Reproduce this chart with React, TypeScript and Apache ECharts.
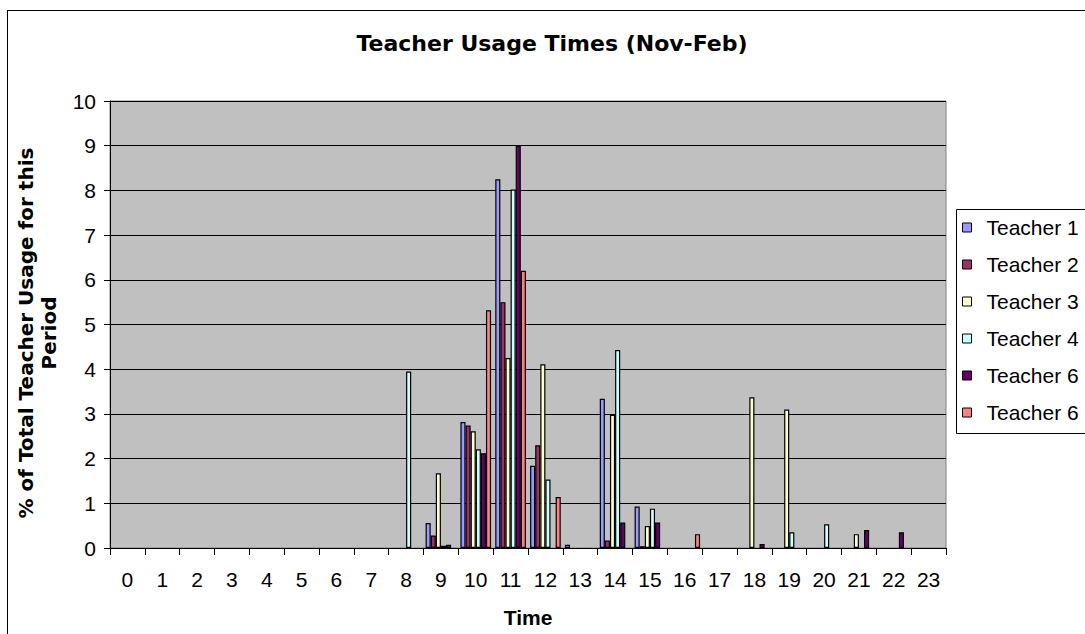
import React, { useEffect, useRef } from "react";
import * as echarts from "echarts";

const hours = ["0", "1", "2", "3", "4", "5", "6", "7", "8", "9", "10", "11", "12", "13", "14", "15", "16", "17", "18", "19", "20", "21", "22", "23"];
const yTicks = { min: 0, max: 10, interval: 1 };

const teacher1 = [0, 0, 0, 0, 0, 0, 0, 0, 0, 0.56, 2.82, 8.25, 1.84, 0.07, 3.34, 0.93, 0, 0, 0, 0, 0, 0, 0, 0];
const teacher2 = [0, 0, 0, 0, 0, 0, 0, 0, 0, 0.28, 2.74, 5.5, 2.3, 0, 0.17, 0.04, 0, 0, 0, 0, 0, 0, 0, 0];
const teacher3 = [0, 0, 0, 0, 0, 0, 0, 0, 0, 1.67, 2.61, 4.25, 4.11, 0, 2.98, 0.49, 0, 0, 3.37, 3.1, 0, 0.31, 0, 0];
const teacher4 = [0, 0, 0, 0, 0, 0, 0, 0, 3.95, 0.05, 2.21, 8.02, 1.53, 0, 4.43, 0.88, 0, 0, 0, 0.35, 0.53, 0, 0, 0];
const teacher6a = [0, 0, 0, 0, 0, 0, 0, 0, 0, 0.07, 2.12, 9.0, 0, 0, 0.57, 0.57, 0, 0, 0.09, 0, 0, 0.4, 0.35, 0];
const teacher6b = [0, 0, 0, 0, 0, 0, 0, 0, 0, 0, 5.32, 6.2, 1.14, 0, 0, 0, 0.31, 0, 0, 0, 0, 0, 0, 0];

const seriesNames = ["Teacher 1", "Teacher 2", "Teacher 3", "Teacher 4", "Teacher 6", "Teacher 6 "];
const seriesData = [teacher1, teacher2, teacher3, teacher4, teacher6a, teacher6b];
const seriesColors = ["#9999FF", "#993366", "#FFFFCC", "#CCFFFF", "#660066", "#FF8080"];

const ARIAL = "'Liberation Sans', Arial, sans-serif";
const WIDE = "'DejaVu Sans', sans-serif";

export default function App() {
  const ref = useRef<HTMLDivElement>(null);

  useEffect(() => {
    document.body.style.margin = "0";
    document.body.style.overflow = "hidden";
    if (!ref.current) return;
    const chart = echarts.init(ref.current, null, { renderer: "svg" });
    chart.setOption({
      animation: false,
      backgroundColor: "#FFFFFF",
      grid: {
        left: 110,
        right: 1085 - 946,
        top: 101,
        bottom: 634 - 548,
        show: true,
        backgroundColor: "#C0C0C0",
        borderColor: "#808080",
        borderWidth: 1,
      },
      xAxis: {
        type: "category",
        data: hours,
        boundaryGap: true,
        axisLine: { lineStyle: { color: "#000", width: 1 } },
        axisTick: { show: true, inside: false, length: 7, lineStyle: { color: "#000" } },
        axisLabel: { color: "#000", fontFamily: ARIAL, fontSize: 21, margin: 21, interval: 0 },
        splitLine: { show: false },
      },
      yAxis: {
        type: "value",
        min: yTicks.min,
        max: yTicks.max,
        interval: yTicks.interval,
        axisLine: { show: true, lineStyle: { color: "#000", width: 1 } },
        axisTick: { show: true, inside: false, length: 6, lineStyle: { color: "#000" } },
        axisLabel: { color: "#000", fontFamily: ARIAL, fontSize: 21, margin: 14 },
        splitLine: { show: true, lineStyle: { color: "#000", width: 1 } },
      },
      legend: {
        orient: "vertical",
        left: 962,
        top: 217,
        padding: 0,
        itemWidth: 9,
        itemHeight: 9,
        itemGap: 16,
        icon: "rect",
        data: seriesNames,
        formatter: (n: string) => n.trim(),
        itemStyle: { borderColor: "#000", borderWidth: 1 },
        textStyle: { color: "#000", fontFamily: ARIAL, fontSize: 21, padding: [0, 0, 0, 10] },
      },
      graphic: [
        { type: "line", shape: { x1: 7.5, y1: 10, x2: 7.5, y2: 640 }, style: { stroke: "#000", lineWidth: 1 }, z: 10 },
        { type: "line", shape: { x1: 7, y1: 10.5, x2: 1090, y2: 10.5 }, style: { stroke: "#000", lineWidth: 1 }, z: 10 },
        {
          type: "rect",
          shape: { x: 956.5, y: 209.5, width: 200, height: 224 },
          style: { fill: "#FFFFFF", stroke: "#000", lineWidth: 1 },
          z: -1,
          silent: true,
        },
        {
          type: "text",
          x: 552,
          y: 43,
          style: {
            text: "Teacher Usage Times (Nov-Feb)",
            font: `bold 22px ${WIDE}`,
            fill: "#000",
            align: "center",
            verticalAlign: "middle",
          },
        },
        {
          type: "text",
          x: 528,
          y: 617,
          style: {
            text: "Time",
            font: `bold 21px ${ARIAL}`,
            fill: "#000",
            align: "center",
            verticalAlign: "middle",
          },
        },
        {
          type: "text",
          x: 37.5,
          y: 333,
          rotation: Math.PI / 2,
          style: {
            text: "% of Total Teacher Usage for this\nPeriod",
            font: `bold 20px ${WIDE}`,
            lineHeight: 23,
            fill: "#000",
            align: "center",
            verticalAlign: "middle",
          },
        },
      ],
      series: seriesNames.map((name, i) => ({
        name,
        type: "bar",
        barGap: "0%",
        barCategoryGap: "12%",
        data: seriesData[i].map((v) => (v === 0 ? null : v)),
        itemStyle: { color: seriesColors[i], borderColor: "#000", borderWidth: 1.2 },
      })),
    });
    return () => chart.dispose();
  }, []);

  return <div ref={ref} style={{ position: "absolute", left: 0, top: 0, width: 1085, height: 634 }} />;
}
